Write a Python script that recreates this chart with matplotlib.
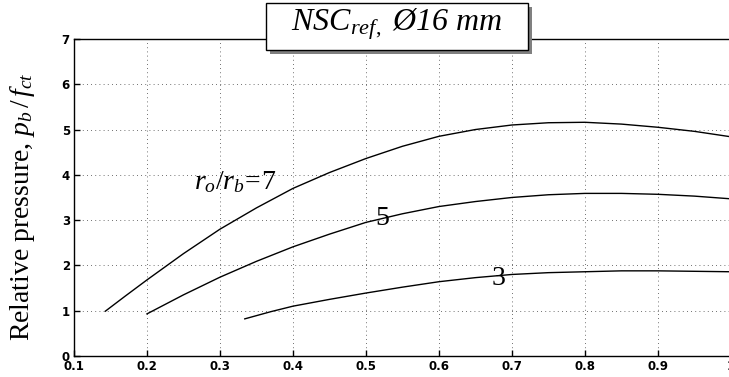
#!/usr/bin/env python3

"""Relative pressure vs. x for NSC_ref, 16 mm bars (three r_o/r_b ratios)."""

import matplotlib

matplotlib.use("Agg")
import matplotlib.pyplot as plt
from matplotlib.patches import Rectangle

plt.rcParams["mathtext.fontset"] = "custom"
plt.rcParams["mathtext.rm"] = "Liberation Serif"
plt.rcParams["mathtext.it"] = "Liberation Serif:italic"
plt.rcParams["mathtext.bf"] = "Liberation Serif:bold"

# curve values
x_r7 = [0.143, 0.17, 0.2, 0.25, 0.3, 0.35, 0.4, 0.45, 0.5, 0.55, 0.6,
        0.65, 0.7, 0.75, 0.8, 0.85, 0.9, 0.95, 1.0]
y_r7 = [0.99, 1.32, 1.68, 2.26, 2.80, 3.27, 3.70, 4.05, 4.36, 4.63, 4.85,
        5.00, 5.10, 5.15, 5.16, 5.12, 5.05, 4.96, 4.84]

x_r5 = [0.2, 0.25, 0.3, 0.35, 0.4, 0.45, 0.5, 0.55, 0.6, 0.65, 0.7,
        0.75, 0.8, 0.85, 0.9, 0.95, 1.0]
y_r5 = [0.93, 1.35, 1.74, 2.09, 2.41, 2.69, 2.95, 3.14, 3.30, 3.41, 3.50,
        3.56, 3.59, 3.59, 3.57, 3.53, 3.47]

x_r3 = [0.334, 0.37, 0.4, 0.45, 0.5, 0.55, 0.6, 0.65, 0.7, 0.75, 0.8,
        0.85, 0.9, 0.95, 1.0]
y_r3 = [0.82, 0.98, 1.10, 1.25, 1.39, 1.52, 1.64, 1.73, 1.80, 1.84, 1.86,
        1.88, 1.88, 1.87, 1.86]

curve_labels = [r"$r_o/r_b\!=\!7$", "5", "3"]
label_x = [0.321, 0.523, 0.681]
label_y = [3.84, 3.03, 1.72]

x_ticks = [0.1, 0.2, 0.3, 0.4, 0.5, 0.6, 0.7, 0.8, 0.9, 1.0]
x_tick_labels = ["0.1", "0.2", "0.3", "0.4", "0.5", "0.6", "0.7", "0.8", "0.9", "1"]
y_ticks = [0, 1, 2, 3, 4, 5, 6, 7]

fig = plt.figure(figsize=(7.29, 3.77), dpi=100)
ax = fig.add_axes([0.1015, 0.0557, 0.901, 0.841])

for xs, ys in [(x_r7, y_r7), (x_r5, y_r5), (x_r3, y_r3)]:
    ax.plot(xs, ys, color="black", lw=1.0)

for lab, lx, ly in zip(curve_labels, label_x, label_y):
    ax.text(lx, ly, lab, ha="center", va="center", fontsize=20,
            family="Liberation Serif")

ax.set_xlim(0.1, 1.0)
ax.set_ylim(0, 7)
ax.set_xticks(x_ticks)
ax.set_xticklabels(x_tick_labels)
ax.set_yticks(y_ticks)
ax.grid(True, color="0.25", lw=0.6, linestyle=(0, (1, 4)))
ax.tick_params(direction="in", length=4, width=1, labelsize=8.5, pad=3)
for lab in ax.get_xticklabels() + ax.get_yticklabels():
    lab.set_fontweight("bold")
    lab.set_family("DejaVu Sans")
ax.spines["right"].set_visible(False)
for s in ["left", "bottom", "top"]:
    ax.spines[s].set_linewidth(1.0)

ax.set_ylabel(r"Relative pressure, $p_b\,/\,f_{ct}$", family="Liberation Serif",
              fontsize=20)
ax.yaxis.set_label_coords(-0.057, 0.47)

# title box with drop shadow
W, H = 729.0, 377.0
bx0, bx1, by0, by1 = 266 / W, 528 / W, 1 - 50 / H, 1 - 3 / H
dx, dy = 4 / W, 4 / H
fig.patches.append(Rectangle((bx0 + dx, by0 - dy), bx1 - bx0, by1 - by0,
                             transform=fig.transFigure, facecolor="0.5",
                             edgecolor="none", hatch="....", zorder=5))
fig.patches.append(Rectangle((bx0, by0), bx1 - bx0, by1 - by0,
                             transform=fig.transFigure, facecolor="white",
                             edgecolor="black", lw=1.0, zorder=6))
fig.text((bx0 + bx1) / 2, (by0 + by1) / 2 + 0.005,
         r"NSC$_{ref,}$ Ø16 mm", family="Liberation Serif", style="italic",
         ha="center", va="center", fontsize=23, zorder=7)

fig.savefig("out.png", dpi=100)
